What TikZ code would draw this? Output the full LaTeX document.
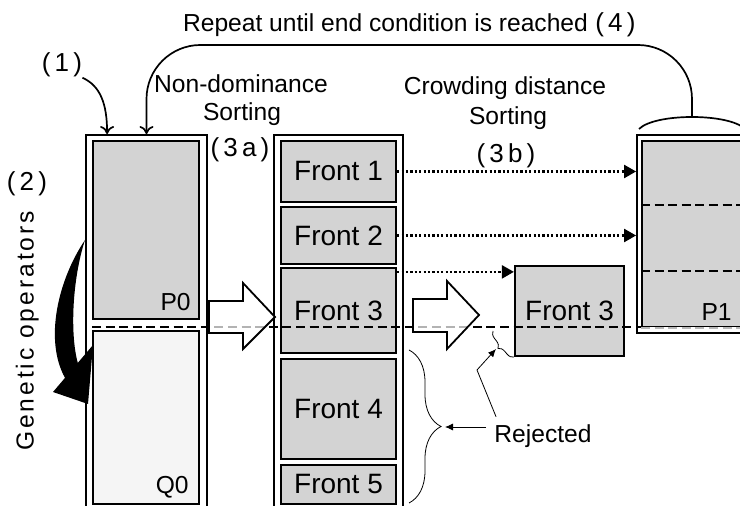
\documentclass[tikz,border=0pt]{standalone}
\usepackage{fontspec}
\setmainfont{Liberation Sans}
\newfontfamily\spfont[LetterSpace=12]{Liberation Sans}
\newfontfamily\pfont[LetterSpace=16]{Liberation Sans}
\usetikzlibrary{arrows.meta, decorations.pathreplacing, calc}
\definecolor{boxgray}{RGB}{211,211,211}
\definecolor{offwhite}{RGB}{245,245,245}

\begin{document}
\begin{tikzpicture}[x=0.5pt, y=-0.5pt,
		col/.style={rectangle, draw, line width=0.9pt, inner sep=0pt},
		pop/.style={rectangle, draw, line width=1.1pt, minimum width=53pt, inner sep=0pt},
		fr/.style={rectangle, draw, fill=boxgray, line width=1.1pt, minimum width=57.5pt, inner sep=0pt, font=\fontsize{14}{16}\selectfont},
		lbl/.style={inner sep=0pt, font=\fontsize{12.3}{14}\selectfont},
		sp/.style={inner sep=0pt, font=\fontsize{12.3}{14}\selectfont\spfont},
		pl/.style={inner sep=0pt, font=\fontsize{13}{15}\selectfont\pfont},
		dots/.style={line width=1.1pt, dash pattern=on 1.1pt off 1.1pt, -{Triangle[length=6pt, width=6.5pt]}},
		cut/.style={line width=0.8pt, dash pattern=on 4.5pt off 2.3pt},
		hol/.style={draw, line width=0.9pt, fill=white, fill opacity=0.7},
		back/.style={line width=0.85pt, rounded corners=27pt, -{To[length=4pt, width=7pt]}},
		arw/.style={line width=0.85pt, -{To[length=4pt, width=7pt]}},
		rj/.style={line width=0.4pt, -{Latex[length=4pt, width=3.5pt]}},
		br/.style={decorate, decoration={brace, amplitude=#1}, line width=0.4pt}
		]
		\useasboundingbox (0,0) rectangle (740,506);
		\clip (0,0) rectangle (740,506);
		
		%Columns
		\node[col, minimum width=60.5pt, minimum height=190pt]	(lc)	at (146.5,325)	{};
		\node[col, minimum width=64.5pt, minimum height=190pt]	(mc)	at (338.5,325)	{};
		\node[col, minimum width=55pt, minimum height=99pt]		(rc)	at (692,234)	{};
		
		%Populations
		\node[pop, fill=boxgray, minimum height=89pt]					(p0)	at (146,230)	{};
		\node[pop, fill=offwhite, minimum height=86.5pt]				(q0)	at (146,417.5)	{};
		\node[pop, fill=boxgray, minimum width=50pt, minimum height=93pt]	(p1)	at (692,234)	{};
		\node[lbl, anchor=base east]	(lp0)	at (191,311)	{P0};
		\node[lbl, anchor=base east]	(lq0)	at (189,494)	{Q0};
		\node[lbl, anchor=base east]	(lp1)	at (732,321)	{P1};
		
		%Fronts
		\node[fr, minimum height=30.5pt]	(f1)	at (338.5,171.5)	{Front 1};
		\node[fr, minimum height=28.5pt]	(f2)	at (338.5,235.5)	{Front 2};
		\node[fr, minimum height=42.5pt]	(f3)	at (338.5,310.5)	{Front 3};
		\node[fr, minimum height=50pt]		(f4)	at (338.5,409)		{Front 4};
		\node[fr, minimum height=19.5pt]	(f5)	at (338.5,484.5)	{Front 5};
		\node[fr, minimum width=54.5pt, minimum height=45pt]	(r3)	at (569.5,311)	{Front 3};
		
		%Texts
		\node[lbl, anchor=base]	(rep)	at (385.5,32)	{Repeat until end condition is reached};
		\node[pl, anchor=base west]	(lab4)	at (595,32)	{(4)};
		\node[pl, anchor=base]	(lab1)	at (62,72)		{(1)};
		\node[pl, anchor=base]	(lab2)	at (27,191)		{(2)};
		\node[sp, rotate=90, anchor=base]	(gen)	at (33.5,331)	{Genetic operators};
		\node[lbl, anchor=base]	(nd1)	at (241,92.5)	{Non-dominance};
		\node[lbl, anchor=base]	(nd2)	at (242,120.5)	{Sorting};
		\node[pl, anchor=base]	(lab3a)	at (240,157)	{(3a)};
		\node[lbl, anchor=base]	(cd1)	at (505,95)		{Crowding distance};
		\node[lbl, anchor=base]	(cd2)	at (508,125)	{Sorting};
		\node[pl, anchor=base]	(lab3b)	at (506,163)	{(3b)};
		\node[lbl, anchor=base, inner sep=4pt]	(rej)	at (543,443)	{Rejected};
		
		%Lines
		\draw[cut] ($(p1.north west)+(0,65)$) -- ($(p1.north east)+(0,65)$);
		\draw[cut] ($(p1.north west)+(0,131)$) -- ($(p1.north east)+(0,131)$);
		\draw[white, line width=1.1pt] (p1.south west) -- (p1.south east);
		\draw[cut, gray!55] (p1.south west) -- (p1.south east);
		\coordinate (cutl) at (92,327);
		\draw[cut] (cutl) -- (cutl -| p1.west);
		
		\draw[dots] (f1.east) -- (f1.east -| rc.west);
		\draw[dots] (f2.east) -- (f2.east -| rc.west);
		\coordinate (f3d) at ($(f3.north east)+(0,5)$);
		\draw[dots] (f3d) -- (f3d -| r3.west);
		
		\draw[hol] (209,301) -- (243,301) -- (243,283) -- (275,317) -- (243,349) -- (243,333) -- (209,333) -- cycle;
		\draw[hol] (413,299) -- (447,299) -- (447,281) -- (479,315) -- (447,349) -- (447,332) -- (413,332) -- cycle;
		
		\fill (85,240) .. controls (58,280) and (44,340) .. (65,377.9) -- (53,392) -- (88,404) -- (93,345) -- (77.8,362.9) .. controls (70,335) and (72,280) .. (85,240) -- cycle;
		
		\coordinate (capl)	at (639,129);
		\coordinate (capr)	at (745,129);
		\coordinate (captop)	at (692,117);
		\coordinate (ret)	at (146.5,45);
		\draw[line width=0.85pt] (capl) .. controls (655,113) and (729,113) .. (capr);
		\draw[back] (captop) |- (ret) -- (lc.north);
		\draw[arw] (lab1.south east) .. controls +(18,8) and +(0,-30) .. ($(lc.north west)+(22,0)$);
		
		\coordinate (bbt)	at (409,350);
		\coordinate (bbb)	at (409,503);
		\coordinate (btip)	at (445,427);
		\coordinate (sbt)	at (493,331);
		\coordinate (sbtip)	at (496,349);
		\coordinate (kink)	at (477,370);
		\draw[br=16pt] (bbt) -- (bbb);
		\draw[br=3.5pt] (r3.south west) -- (sbt);
		\draw[rj] (rej.west |- btip) -- (btip);
		\draw[rj] ([xshift=5pt]rej.north west) -- (kink) -- (sbtip);
		
	\end{tikzpicture}
\end{document}
